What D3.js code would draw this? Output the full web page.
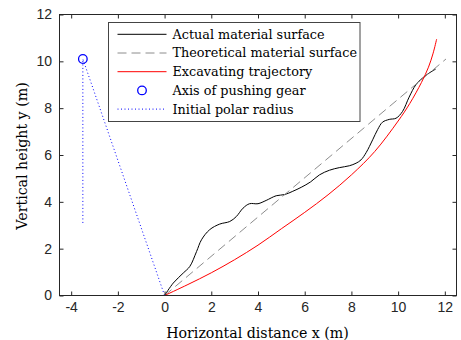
<!DOCTYPE html>
<html>
<head>
<meta charset="utf-8">
<script src="https://cdn.jsdelivr.net/npm/d3@7"></script>
<style>
  body { margin: 0; background: #fff; }
  svg { display: block; font-family: "Liberation Serif", "DejaVu Serif", serif; }
  .label { font-family: "DejaVu Serif", serif; }
</style>
</head>
<body>
<div id="chart"></div>
<script>
const WIDTH = 461;
const HEIGHT = 340;
const MARGIN = { top: 14.5, right: 4.5, bottom: 44.5, left: 59.5 };

// actual material surface (black)
const actualX = [0, 0.37, 0.80, 1.08, 1.37, 1.58, 1.93, 2.36, 2.79, 3.07, 3.36, 3.64, 4.00, 4.35, 4.78, 5.14, 5.49, 5.85, 6.25, 6.63, 7.06, 7.48, 7.91, 8.20, 8.41, 8.63, 8.91, 9.12, 9.33, 9.62, 9.91, 10.19, 10.47, 10.76, 11.04, 11.33, 11.61];
const actualY = [0, 0.53, 0.96, 1.24, 1.88, 2.38, 2.81, 3.05, 3.16, 3.37, 3.73, 3.92, 3.92, 4.06, 4.26, 4.31, 4.45, 4.62, 4.85, 5.15, 5.35, 5.46, 5.54, 5.65, 5.79, 6.10, 6.65, 7.08, 7.40, 7.52, 7.57, 7.86, 8.47, 9.00, 9.28, 9.50, 9.67];

// theoretical material surface (grey dashed)
const theoX = [0, 12.05];
const theoY = [0, 10.1];

// excavating trajectory (red)
const trajX = [0, 1, 2, 3, 4, 5, 6, 7, 8, 9, 10, 10.5, 11, 11.3, 11.5, 11.65];
const trajY = [0, 0.47, 0.97, 1.53, 2.15, 2.85, 3.55, 4.3, 5.15, 6.15, 7.45, 8.2, 9.1, 9.75, 10.35, 10.95];

// axis of pushing gear and initial polar radius (blue)
const gearX = [-3.5];
const gearY = [10.1];
const radiusX = [-3.5, -3.5, 0];
const radiusY = [3.1, 10.1, 0];

const xTicks = [-4, -2, 0, 2, 4, 6, 8, 10, 12];
const yTicks = [0, 2, 4, 6, 8, 10, 12];
const legendLabels = ["Actual material surface", "Theoretical material surface", "Excavating trajectory", "Axis of pushing gear", "Initial polar radius"];

const AXIS_COLOR = "#262626";
const TICK_FONT = 14;
const TITLE_FONT = 14.2;
const LEGEND_FONT = 12.8;

const svg = d3.select("#chart")
    .append("svg")
        .attr("width", WIDTH)
        .attr("height", HEIGHT);

const x = d3.scaleLinear()
    .domain([-4.5, 12.5])
    .range([MARGIN.left, WIDTH - MARGIN.right]);
const y = d3.scaleLinear()
    .domain([0, 12])
    .range([HEIGHT - MARGIN.bottom, MARGIN.top]);

const zip = (xs, ys) => xs.map((v, i) => [v, ys[i]]);

const line = d3.line()
    .x(d => x(d[0]))
    .y(d => y(d[1]));
const smooth = d3.line()
    .x(d => x(d[0]))
    .y(d => y(d[1]))
    .curve(d3.curveCatmullRom.alpha(0.5));

// clip to plot area
svg.append("clipPath").attr("id", "clip")
    .append("rect")
        .attr("x", MARGIN.left).attr("y", MARGIN.top)
        .attr("width", WIDTH - MARGIN.left - MARGIN.right)
        .attr("height", HEIGHT - MARGIN.top - MARGIN.bottom);

const plot = svg.append("g").attr("clip-path", "url(#clip)");

plot.append("path")
    .attr("d", smooth(zip(actualX, actualY)))
    .attr("fill", "none")
    .attr("stroke", "#000")
    .attr("stroke-width", 1);

plot.append("path")
    .attr("d", line(zip(theoX, theoY)))
    .attr("fill", "none")
    .attr("stroke", "#8c8c8c")
    .attr("stroke-width", 1)
    .attr("stroke-dasharray", "9,5");

plot.append("path")
    .attr("d", smooth(zip(trajX, trajY)))
    .attr("fill", "none")
    .attr("stroke", "#ff0000")
    .attr("stroke-width", 1);

plot.append("path")
    .attr("d", line(zip(radiusX, radiusY)))
    .attr("fill", "none")
    .attr("stroke", "#0000ff")
    .attr("stroke-width", 1)
    .attr("stroke-dasharray", "1,2.5");

plot.selectAll("circle.gear")
    .data(zip(gearX, gearY))
    .enter()
    .append("circle")
        .attr("class", "gear")
        .attr("cx", d => x(d[0]))
        .attr("cy", d => y(d[1]))
        .attr("r", 4.3)
        .attr("fill", "none")
        .attr("stroke", "#0000ff")
        .attr("stroke-width", 1.3);

// axes, MATLAB style: ticks inward on all four sides
const styleAxis = g => {
    g.select(".domain").remove();
    g.selectAll("line").attr("stroke", AXIS_COLOR);
    g.selectAll("text").attr("fill", AXIS_COLOR).style("font-size", TICK_FONT + "px");
};

svg.append("g")
    .attr("transform", `translate(0,${HEIGHT - MARGIN.bottom})`)
    .call(d3.axisBottom(x).tickValues(xTicks).tickSize(-4).tickPadding(7).tickFormat(d => String(d)))
    .call(styleAxis);
svg.append("g")
    .attr("transform", `translate(0,${MARGIN.top})`)
    .call(d3.axisTop(x).tickValues(xTicks).tickSize(-4).tickFormat(""))
    .call(styleAxis);
svg.append("g")
    .attr("transform", `translate(${MARGIN.left},0)`)
    .call(d3.axisLeft(y).tickValues(yTicks).tickSize(-4).tickPadding(7.5).tickFormat(d => String(d)))
    .call(styleAxis);
svg.append("g")
    .attr("transform", `translate(${WIDTH - MARGIN.right},0)`)
    .call(d3.axisRight(y).tickValues(yTicks).tickSize(-4).tickFormat(""))
    .call(styleAxis);

svg.append("rect")
    .attr("x", MARGIN.left).attr("y", MARGIN.top)
    .attr("width", WIDTH - MARGIN.left - MARGIN.right)
    .attr("height", HEIGHT - MARGIN.top - MARGIN.bottom)
    .attr("fill", "none")
    .attr("stroke", AXIS_COLOR)
    .attr("stroke-width", 1);

// axis titles
svg.append("text")
    .attr("class", "label")
    .attr("x", 257.5)
    .attr("y", 333.5)
    .attr("dy", "0.35em")
    .attr("text-anchor", "middle")
    .attr("fill", "#000")
    .style("font-size", TITLE_FONT + "px")
    .text("Horizontal distance x (m)");
svg.append("text")
    .attr("class", "label")
    .attr("transform", `translate(22,156) rotate(-90)`)
    .attr("dy", "0.35em")
    .attr("text-anchor", "middle")
    .attr("fill", "#000")
    .style("font-size", TITLE_FONT + "px")
    .text("Vertical height y (m)");

// legend
const LEG_X = 108.5, LEG_Y = 22.5, LEG_W = 251.5, LEG_H = 99, ROW = 18.7;
const legend = svg.append("g");
legend.append("rect")
    .attr("x", LEG_X).attr("y", LEG_Y)
    .attr("width", LEG_W).attr("height", LEG_H)
    .attr("fill", "#fff")
    .attr("stroke", "#444")
    .attr("stroke-width", 1);

const legendStyles = [
    { stroke: "#000", dash: null, type: "line" },
    { stroke: "#8c8c8c", dash: "9,5", type: "line" },
    { stroke: "#ff0000", dash: null, type: "line" },
    { stroke: "#0000ff", dash: null, type: "circle" },
    { stroke: "#0000ff", dash: "1,2.5", type: "line" }
];

legendLabels.forEach((label, i) => {
    const cy = LEG_Y + 11.8 + i * ROW;
    const st = legendStyles[i];
    if (st.type === "line") {
        legend.append("line")
            .attr("x1", 117.5).attr("x2", 166.5)
            .attr("y1", cy).attr("y2", cy)
            .attr("stroke", st.stroke)
            .attr("stroke-width", 1)
            .attr("stroke-dasharray", st.dash);
    } else {
        legend.append("circle")
            .attr("cx", 142).attr("cy", cy)
            .attr("r", 4.3)
            .attr("fill", "none")
            .attr("stroke", st.stroke)
            .attr("stroke-width", 1.3);
    }
    legend.append("text")
        .attr("class", "label")
        .attr("x", 172.5)
        .attr("y", cy)
        .attr("dy", "0.35em")
        .attr("fill", "#000")
        .style("font-size", LEGEND_FONT + "px")
        .text(label);
});
</script>
</body>
</html>
